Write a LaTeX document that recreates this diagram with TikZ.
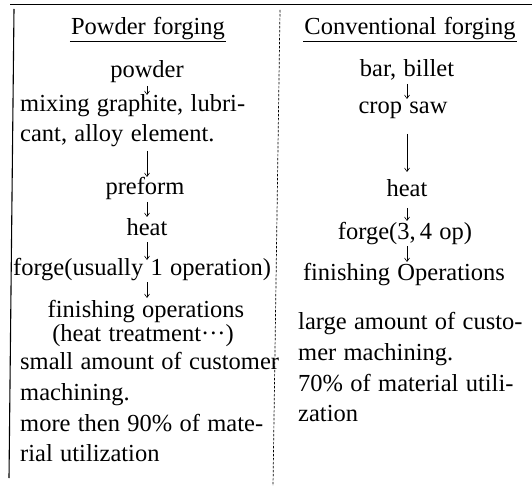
\documentclass[tikz,border=0pt]{standalone}
\usepackage{fontspec}
\setmainfont{Liberation Serif}[WordSpace=1.2]
\usetikzlibrary{arrows.meta}
\newcommand\bodyfs{\fontsize{24.5}{30}\selectfont}
\tikzset{
  txt/.style={inner sep=0pt, font=\bodyfs, anchor=base},
  para/.style={inner sep=0pt, font=\bodyfs, anchor=base west},
  flow/.style={-{Straight Barb[length=3.5pt,width=5pt]}, line width=0.6pt},
  rule/.style={line width=0.9pt},
  divider/.style={line width=0.7pt, dash pattern=on 2.5pt off 1.5pt},
}
\begin{document}
\begin{tikzpicture}[x=1pt,y=-1pt]
\useasboundingbox (0,0) rectangle (532,486);

% frame: top rule, left border, dashed column divider
\draw[line width=1pt] (10,5) -- (532,5);
\draw[line width=1.1pt] (14,9) -- (9,478);
\draw[divider] (280,10) -- (273,486);

% left column: powder forging
\node[txt] (tP) at (148,35) {Powder forging};
\node[txt] (powder) at (147,78) {powder};
\node[para] (mixA) at (20,112) {mixing graphite, lubri-};
\node[para] (cantB) at (20,142) {cant, alloy element.};
\node[txt] (preform) at (145,195) {preform};
\node[txt] (heatL) at (147,236) {heat};
\node[txt] (forgeL) at (142,275) {forge(usually 1 operation)};
\node[txt] (finL) at (146,317) {finishing operations};
\node[txt] (treatL) at (143,341) {(heat treatment···)};
\node[para] (smallA) at (20,369) {small amount of customer};
\node[para] (machB) at (20,400) {machining.};
\node[para] (moreC) at (20,431) {more then 90\% of mate-};
\node[para] (rialD) at (20,461) {rial utilization};

% right column: conventional forging
\node[txt] (tC) at (410,35) {Conventional forging};
\node[txt] (bar) at (407,77) {bar, billet};
\node[txt] (crop) at (403,114) {crop saw};
\node[txt] (heatR) at (407,197) {heat};
\node[txt] (forgeR) at (405,239) {forge(3,\,4 op)};
\node[txt] (finR) at (404,280) {finishing Operations};
\node[para] (largeA) at (298,329) {large amount of custo-};
\node[para] (merB) at (298,360) {mer machining.};
\node[para] (sevC) at (298,391) {70\% of material utili-};
\node[para] (zatD) at (298,421) {zation};

% title underlines
\draw[rule] ([xshift=-1pt,yshift=-6pt]tP.base west) -- ([xshift=1pt,yshift=-6pt]tP.base east);
\draw[rule] ([xshift=-1pt,yshift=-6pt]tC.base west) -- ([xshift=1pt,yshift=-6pt]tC.base east);

% process arrows, left
\draw[flow] ([yshift=-8pt]powder.base) -- ([yshift=17pt]powder.base |- mixA.base);
\draw[flow] ([yshift=-9pt]powder.base |- cantB.base) -- ([yshift=18pt]powder.base |- preform.base);
\draw[flow] ([yshift=-7pt]powder.base |- preform.base) -- ([yshift=19pt]powder.base |- heatL.base);
\draw[flow] ([yshift=-6pt]powder.base |- heatL.base) -- ([yshift=15pt]powder.base |- forgeL.base);
\draw[flow] ([yshift=-7pt]powder.base |- forgeL.base) -- ([yshift=19pt]powder.base |- finL.base);

% process arrows, right
\draw[flow] ([yshift=-7pt]bar.base) -- ([yshift=15pt]bar.base |- crop.base);
\draw[flow] ([yshift=-20pt]bar.base |- crop.base) -- ([yshift=25pt]bar.base |- heatR.base);
\draw[flow] ([yshift=-11pt]bar.base |- heatR.base) -- ([yshift=18pt]bar.base |- forgeR.base);
\draw[flow] ([yshift=-7pt]bar.base |- forgeR.base) -- ([yshift=18pt]bar.base |- finR.base);
\end{tikzpicture}
\end{document}
